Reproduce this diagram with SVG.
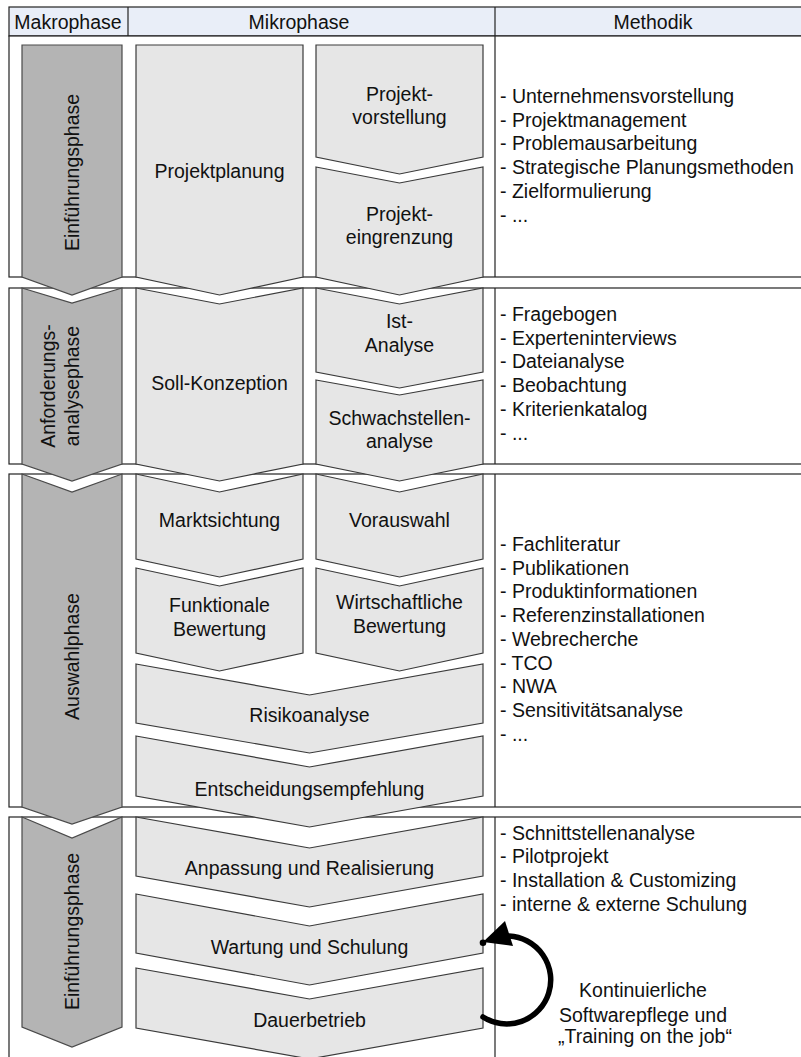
<svg xmlns="http://www.w3.org/2000/svg" width="801" height="1057" viewBox="0 0 801 1057">
<defs>
<style>
text{font-family:"Liberation Sans",Arial,sans-serif;font-size:19.5px;fill:#111}
.c{text-anchor:middle}
.sec{fill:#fff;stroke:#222;stroke-width:1.2}
.hdr{fill:#e9eef8;stroke:#222;stroke-width:1.2}
.div{stroke:#222;stroke-width:1.2}
.mak{fill:#b4b4b4;stroke:#4a4a4a;stroke-width:1.2}
.mik{fill:#e6e6e6;stroke:#3a3a3a;stroke-width:1.2}
</style>
</defs>
<rect width="801" height="1057" fill="#fff"/>

<g id="header">
<rect class="hdr" x="9" y="7" width="800" height="29"/>
<line class="div" x1="128" y1="7" x2="128" y2="36"/>
<line class="div" x1="495" y1="7" x2="495" y2="36"/>
<text class="c" x="68" y="29">Makrophase</text>
<text class="c" x="299" y="29">Mikrophase</text>
<text class="c" x="653" y="29">Methodik</text>
</g>

<g id="sections">
<rect class="sec" x="9" y="36" width="800" height="241"/>
<line class="div" x1="495" y1="36" x2="495" y2="277"/>
<rect class="sec" x="9" y="288" width="800" height="176"/>
<line class="div" x1="495" y1="288" x2="495" y2="464"/>
<rect class="sec" x="9" y="474" width="800" height="333"/>
<line class="div" x1="495" y1="474" x2="495" y2="807"/>
<rect class="sec" x="9" y="817" width="800" height="260"/>
<line class="div" x1="495" y1="817" x2="495" y2="1057"/>
</g>

<g id="makro1">
<polygon class="mak" points="22,45 122,45 122,277 72,295 22,277"/>
<text class="c" transform="translate(79,172.5) rotate(-90)">Einführungsphase</text>
</g>
<g id="makro2">
<polygon class="mak" points="22,288 72,303 122,288 122,464 72,481 22,464"/>
<text class="c" transform="translate(55,386) rotate(-90)">Anforderungs-</text>
<text class="c" transform="translate(79,386) rotate(-90)">analysephase</text>
</g>
<g id="makro3">
<polygon class="mak" points="22,474 72,492 122,474 122,807 72,824 22,807"/>
<text class="c" transform="translate(79,656.5) rotate(-90)">Auswahlphase</text>
</g>
<g id="makro4">
<polygon class="mak" points="22,817 72,838 122,817 122,1027 72,1047 22,1027"/>
<text class="c" transform="translate(79,931.5) rotate(-90)">Einführungsphase</text>
</g>

<g id="projektplanung">
<polygon class="mik" points="136,45 303,45 303,277 219.5,295 136,277"/>
<text class="c" x="219.5" y="178">Projektplanung</text>
</g>
<g id="projektvorstellung">
<polygon class="mik" points="316,45 483,45 483,157 399.5,174 316,157"/>
<text class="c" x="399.5" y="101">Projekt-</text>
<text class="c" x="399.5" y="124">vorstellung</text>
</g>
<g id="projekteingrenzung">
<polygon class="mik" points="316,167 399.5,183 483,167 483,277 399.5,295 316,277"/>
<text class="c" x="399.5" y="221">Projekt-</text>
<text class="c" x="399.5" y="244">eingrenzung</text>
</g>

<g id="sollkonzeption">
<polygon class="mik" points="136,288 219.5,304 303,288 303,464 219.5,481 136,464"/>
<text class="c" x="219.5" y="390">Soll-Konzeption</text>
</g>
<g id="istanalyse">
<polygon class="mik" points="316,288 399.5,304 483,288 483,372 399.5,388 316,372"/>
<text class="c" x="399.5" y="328">Ist-</text>
<text class="c" x="399.5" y="351.5">Analyse</text>
</g>
<g id="schwachstellenanalyse">
<polygon class="mik" points="316,380 399.5,395 483,380 483,464 399.5,481 316,464"/>
<text class="c" x="399.5" y="425">Schwachstellen-</text>
<text class="c" x="399.5" y="447.5">analyse</text>
</g>

<g id="marktsichtung">
<polygon class="mik" points="136,474 219.5,492 303,474 303,559 219.5,577 136,559"/>
<text class="c" x="219.5" y="527">Marktsichtung</text>
</g>
<g id="vorauswahl">
<polygon class="mik" points="316,474 399.5,492 483,474 483,559 399.5,577 316,559"/>
<text class="c" x="399.5" y="527">Vorauswahl</text>
</g>
<g id="funktionale">
<polygon class="mik" points="136,568 219.5,586 303,568 303,653 219.5,671 136,653"/>
<text class="c" x="219.5" y="612">Funktionale</text>
<text class="c" x="219.5" y="636">Bewertung</text>
</g>
<g id="wirtschaftliche">
<polygon class="mik" points="316,568 399.5,586 483,568 483,653 399.5,671 316,653"/>
<text class="c" x="399.5" y="608.5">Wirtschaftliche</text>
<text class="c" x="399.5" y="632.5">Bewertung</text>
</g>
<g id="risikoanalyse">
<polygon class="mik" points="136,664 309.5,695 483,664 483,723 309.5,753 136,723"/>
<text class="c" x="309.5" y="722">Risikoanalyse</text>
</g>
<g id="entscheidung">
<polygon class="mik" points="136,736 309.5,767 483,736 483,796 309.5,827 136,796"/>
<text class="c" x="309.5" y="796">Entscheidungsempfehlung</text>
</g>

<g id="anpassung">
<polygon class="mik" points="136,817 309.5,848 483,817 483,876 309.5,907 136,876"/>
<text class="c" x="309.5" y="875">Anpassung und Realisierung</text>
</g>
<g id="wartung">
<polygon class="mik" points="136,894 309.5,926 483,894 483,953 309.5,985 136,953"/>
<text class="c" x="309.5" y="953.5">Wartung und Schulung</text>
</g>
<g id="dauerbetrieb">
<polygon class="mik" points="136,968 309.5,999 483,968 483,1028 309.5,1059 136,1028"/>
<text class="c" x="309.5" y="1027">Dauerbetrieb</text>
</g>

<g id="methodik1">
<text x="500" y="103">- Unternehmensvorstellung</text>
<text x="500" y="126.7">- Projektmanagement</text>
<text x="500" y="150.4">- Problemausarbeitung</text>
<text x="500" y="174.1">- Strategische Planungsmethoden</text>
<text x="500" y="197.8">- Zielformulierung</text>
<text x="500" y="221.5">- ...</text>
</g>
<g id="methodik2">
<text x="500" y="321">- Fragebogen</text>
<text x="500" y="344.7">- Experteninterviews</text>
<text x="500" y="368.4">- Dateianalyse</text>
<text x="500" y="392.1">- Beobachtung</text>
<text x="500" y="415.8">- Kriterienkatalog</text>
<text x="500" y="439.5">- ...</text>
</g>
<g id="methodik3">
<text x="500" y="551">- Fachliteratur</text>
<text x="500" y="574.7">- Publikationen</text>
<text x="500" y="598.4">- Produktinformationen</text>
<text x="500" y="622.1">- Referenzinstallationen</text>
<text x="500" y="645.8">- Webrecherche</text>
<text x="500" y="669.5">- TCO</text>
<text x="500" y="693.2">- NWA</text>
<text x="500" y="716.9">- Sensitivitätsanalyse</text>
<text x="500" y="740.6">- ...</text>
</g>
<g id="methodik4">
<text x="500" y="839.5">- Schnittstellenanalyse</text>
<text x="500" y="863.2">- Pilotprojekt</text>
<text x="500" y="886.9">- Installation &amp; Customizing</text>
<text x="500" y="910.6">- interne &amp; externe Schulung</text>
</g>

<g id="connectors">
<path d="M 483 1017 A 44 44 0 1 0 509 936" fill="none" stroke="#000" stroke-width="5.5" stroke-linecap="round"/>
<polygon points="483,942 505,921 513,946" fill="#000"/>
<circle cx="483" cy="942.7" r="3.3" fill="#000"/>
</g>

<g id="loop-label">
<text class="c" x="643" y="997">Kontinuierliche</text>
<text class="c" x="643" y="1021.5">Softwarepflege und</text>
<text class="c" x="645" y="1042.5">„Training on the job“</text>
</g>
</svg>
